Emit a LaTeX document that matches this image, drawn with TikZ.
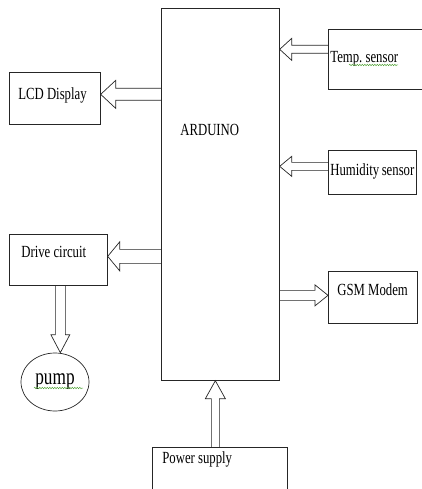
\documentclass[tikz,border=0pt]{standalone}
\usepackage{fontspec}
\setmainfont[FakeStretch=0.75]{Liberation Serif}
\usepackage{tikz}
\usetikzlibrary{calc,shapes.geometric,decorations.pathmorphing}
\definecolor{lineblk}{rgb}{0.15,0.15,0.15}
\definecolor{spellgreen}{rgb}{0.35,0.65,0.25}
\hyphenpenalty=10000
\hbadness=10000
\hfuzz=50pt
% hollow block arrow: shaft half, head half, head length, from, to
\newcommand\blockarr[5]{%
  \coordinate (ba-s) at (#4);
  \coordinate (ba-t) at (#5);
  \coordinate (ba-b) at ($(ba-t)!#3pt!(ba-s)$);
  \draw[blk] ($(ba-s)!#1pt!90:(ba-t)$) -- ($(ba-b)!#1pt!90:(ba-t)$)
    -- ($(ba-b)!#2pt!90:(ba-t)$) -- (ba-t) -- ($(ba-b)!#2pt!-90:(ba-t)$)
    -- ($(ba-b)!#1pt!-90:(ba-t)$) -- ($(ba-s)!#1pt!-90:(ba-t)$);}

\begin{document}
\begin{tikzpicture}[x=1pt,y=-1pt,font=\fontsize{17}{20}\selectfont,
   bx/.style n args={4}{draw=lineblk,line width=0.7pt,anchor=north west,align=flush left,
              inner ysep=0pt,inner xsep=#2,text width=#1,text height=#3,text depth=#4},
   blk/.style={draw=lineblk,line width=0.7pt},
   squig/.style={draw=spellgreen,line width=0.5pt,decorate,
              decoration={snake,segment length=2.5pt,amplitude=0.7pt}}]
  \clip (0,0) rectangle (422,489);
  \node[bx={80pt}{19pt}{127pt}{245pt}] (ard) at (161,8) {ARDUINO};
  \node[bx={73pt}{9pt}{27pt}{25pt}]    (lcd) at (9,72) {LCD~Display};
  \node[bx={89.5pt}{2pt}{33pt}{27pt}]  (tmp) at (328,29) {Temp.~sensor};
  \node[bx={84pt}{2pt}{25pt}{19pt}]    (hum) at (328,150) {Humidity~sensor};
  \node[bx={74pt}{12pt}{23pt}{28pt}]   (drv) at (9,234) {Drive~circuit};
  \node[bx={71pt}{9pt}{24pt}{28pt}]    (gsm) at (328,271) {GSM~Modem};
  \node[bx={115pt}{10pt}{16pt}{44pt}]  (pwr) at (152,447) {Power~supply};
  \node[ellipse,draw=lineblk,line width=0.7pt,minimum width=68pt,minimum height=58pt,
        inner sep=0pt,font=\fontsize{23}{26}\selectfont] (pump) at (55,382) {pump};

  % block arrows
  \coordinate (lcdp) at ([yshift=4pt]lcd.east);
  \blockarr{6}{14}{15}{ard.west |- lcdp}{lcdp}
  \coordinate (tmpp) at ([yshift=10pt]tmp.west);
  \blockarr{4}{11}{12}{tmpp}{ard.east |- tmpp}
  \coordinate (hump) at ([yshift=6pt]hum.west);
  \blockarr{4}{10}{12}{hump}{ard.east |- hump}
  \coordinate (drvq) at ([yshift=3.5pt]drv.east);
  \blockarr{7}{14.5}{12}{ard.west |- drvq}{drvq}
  \coordinate (gsmp) at ([yshift=2pt]gsm.west);
  \blockarr{5}{10.5}{13}{ard.east |- gsmp}{gsmp}
  \coordinate (pwrp) at ([xshift=-4.5pt]pwr.north);
  \blockarr{4}{10}{18}{pwrp}{ard.south -| pwrp}
  \coordinate (drvp) at ([xshift=2pt]drv.south);
  \blockarr{5}{9.5}{18}{drvp}{pump.north -| drvp}

  % spell-check marks
  \draw[squig] (349,65) -- (398,65);
  \draw[squig] (34,388) -- (83,388);
\end{tikzpicture}
\end{document}
